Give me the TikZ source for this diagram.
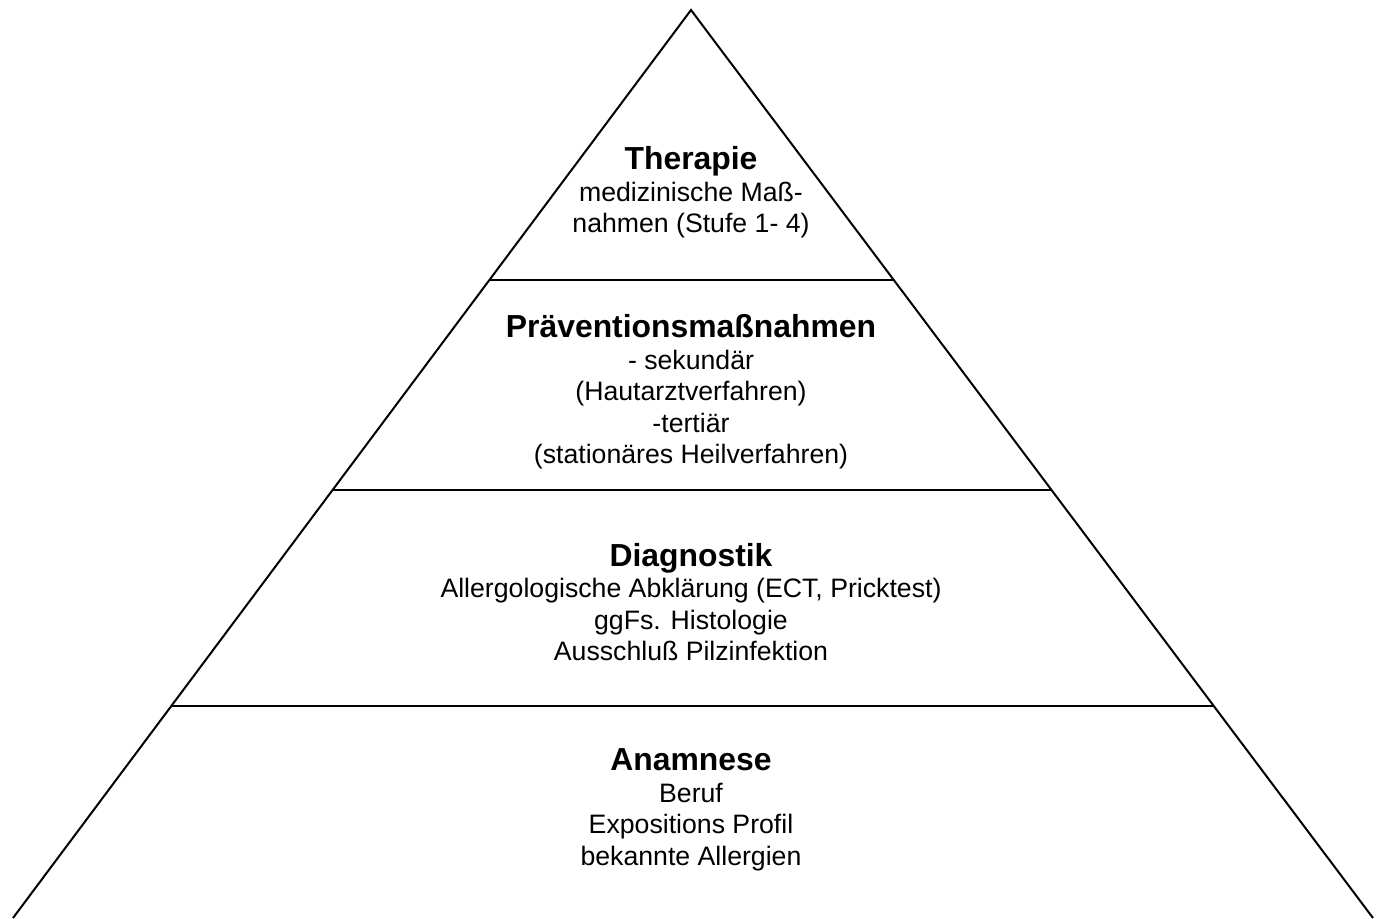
\documentclass[tikz,border=0pt]{standalone}
\usepackage{fontspec}
\setmainfont{Liberation Sans}
\usetikzlibrary{calc}

\newcommand{\stufenkopf}[1]{{\fontsize{23.9}{24}\selectfont\bfseries #1}}

\begin{document}
\begin{tikzpicture}[
    x=0.75pt, y=-0.75pt,
    kante/.style={
      draw, line width=1.5pt, line join=miter
    },
    stufe/.style={
      anchor=north, align=center, inner sep=0pt,
      font=\fontsize{20}{23.6}\selectfont
    }
    ]
  \useasboundingbox (0,0) rectangle (1382,918);
  \coordinate (spitze) at (691,10);
  \coordinate (fusslinks) at (13,918);
  \coordinate (fussrechts) at (1373,918);
  \draw[kante] (fusslinks) -- (spitze) -- (fussrechts);
  % trennlinien der stufen
  \foreach \t/\n in {0.2974/a, 0.5286/b, 0.7665/c} {
    \coordinate (l\n) at ($(spitze)!\t!(fusslinks)$);
    \coordinate (r\n) at ($(spitze)!\t!(fussrechts)$);
    \draw[kante] (l\n) -- (r\n);
  }
  \node[stufe] (therapie) at (691,146) {\stufenkopf{Therapie}\\[0.5pt]
    medizinische Maß-\\nahmen (Stufe 1- 4)};
  \node[stufe] (praevention) at (691,314) {\stufenkopf{Präventionsmaßnahmen}\\[0.5pt]
    - sekundär\\(Hautarztverfahren)\\-tertiär\\(stationäres Heilverfahren)};
  \node[stufe] (diagnostik) at (691,543) {\stufenkopf{Diagnostik}\\
    Allergologische Abklärung (ECT, Pricktest)\\ggFs. Histologie\\Ausschluß Pilzinfektion};
  \node[stufe] (anamnese) at (691,748) {\stufenkopf{Anamnese}\\[0.5pt]
    Beruf\\Expositions Profil\\bekannte Allergien};
\end{tikzpicture}
\end{document}
